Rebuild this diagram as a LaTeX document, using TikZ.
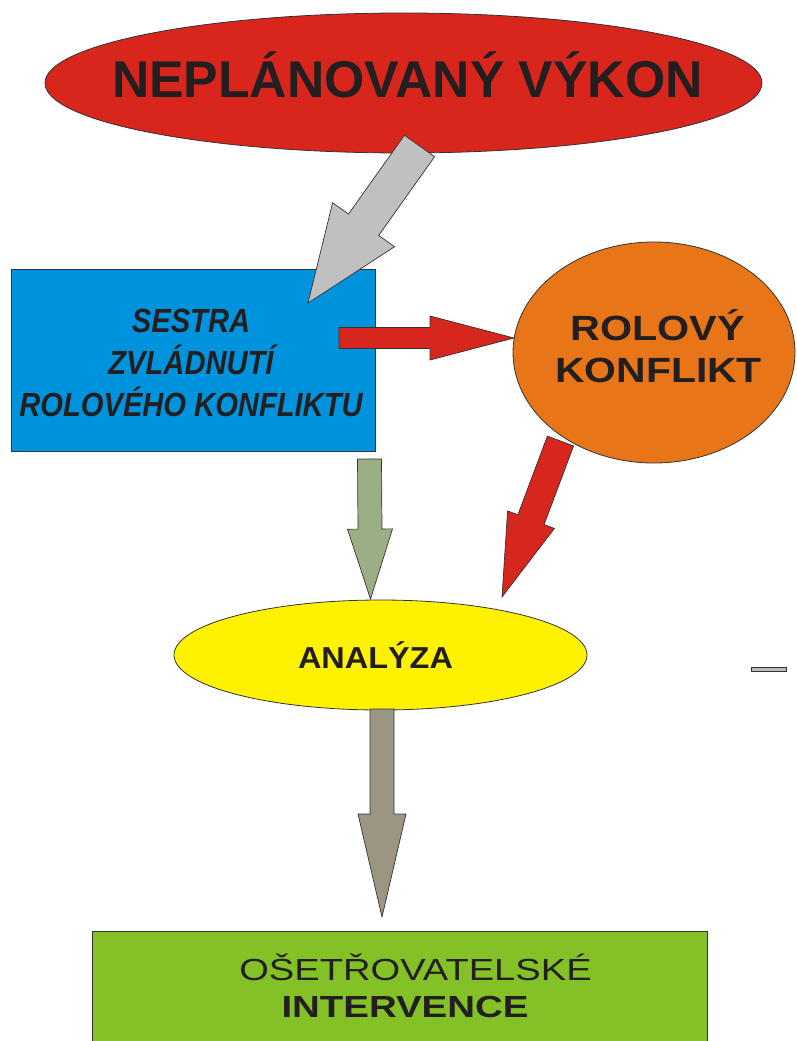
\documentclass[tikz,border=0pt]{standalone}
\usepackage{fontspec}
\usepackage{graphicx}
\setmainfont{Liberation Sans}
\usetikzlibrary{calc,shapes.geometric}

\definecolor{edge}{HTML}{333333}
\definecolor{ink}{HTML}{231F20}
\definecolor{topred}{HTML}{D8261D}
\definecolor{nurseblue}{HTML}{0093DD}
\definecolor{conforange}{HTML}{E87619}
\definecolor{analyellow}{HTML}{FFF200}
\definecolor{intgreen}{HTML}{84C126}
\definecolor{arrgray}{HTML}{C0C0C0}
\definecolor{arrred}{HTML}{D7261D}
\definecolor{arrgreen}{HTML}{9AAF86}
\definecolor{arrdark}{HTML}{9A9682}

% block arrow: #1 style, #2 tail, #3 tip, #4 half shaft width,
% #5 half head width, #6 head length (all in pt)
\newcommand{\blockarrow}[6]{%
  \coordinate (ba-h) at ($(#3)!#6pt!(#2)$);
  \path[#1] ($(#2)!#4pt!90:(#3)$) -- ($(ba-h)!#4pt!90:(#3)$)
    -- ($(ba-h)!#5pt!90:(#3)$) -- (#3)
    -- ($(ba-h)!#5pt!-90:(#3)$) -- ($(ba-h)!#4pt!-90:(#3)$)
    -- ($(#2)!#4pt!-90:(#3)$) -- cycle;}

\begin{document}
\begin{tikzpicture}[x=1pt,y=-1pt,
  shapebox/.style={draw=edge, line width=0.8pt, inner sep=0pt},
  oval/.style={shapebox, ellipse},
  box/.style={shapebox, rectangle},
  arrowbody/.style={draw=edge, line width=0.7pt, line join=miter},
  lbl/.style={anchor=base, inner sep=0pt, text=ink}]

\useasboundingbox (0,0) rectangle (796,1041);
\clip (0,0) rectangle (796,1041);

% shapes
\node[oval, fill=topred, minimum width=717, minimum height=140] (vykon) at (403.5,83) {};
\node[box, fill=nurseblue, minimum width=364, minimum height=182] (sestra) at (193,360) {};
\node[oval, fill=conforange, minimum width=282, minimum height=221] (konflikt) at (654,352.5) {};
\node[oval, fill=analyellow, minimum width=413, minimum height=110] (analyza) at (380.5,655) {};
\node[box, fill=intgreen, minimum width=615, minimum height=129] (intervence) at (399.5,995.5) {};

% small stray bar on the right
\draw[edge, fill=gray!55, line width=0.6pt] (751,667.5) rectangle (786,671.5);

% arrow end points
\coordinate (v-out) at (419.5,146);  \coordinate (s-in) at (308,303);
\coordinate (s-out) at (339,338);    \coordinate (k-in) at (514,338);
\coordinate (k-out) at (560.5,441);  \coordinate (a-in2) at (502,597);
\coordinate (s-down) at (369.5,459); \coordinate (a-in1) at (370.5,599);
\coordinate (a-out) at (382,709);    \coordinate (i-in) at (382,917);

% block arrows
\blockarrow{arrowbody, fill=arrgray}{v-out}{s-in}{18.5}{38}{96}
\blockarrow{arrowbody, fill=arrred}{s-out}{k-in}{10.5}{22}{84}
\blockarrow{arrowbody, fill=arrred}{k-out}{a-in2}{14}{25}{82.6}
\blockarrow{arrowbody, fill=arrgreen}{s-down}{a-in1}{12}{22.5}{70}
\blockarrow{arrowbody, fill=arrdark}{a-out}{i-in}{12}{24}{103}

% labels
\node[lbl, font=\fontsize{51.7}{60}\selectfont\bfseries] (t-vykon) at (407.5,97) {NEPLÁNOVANÝ VÝKON};

\node[lbl, font=\fontsize{33.5}{40}\selectfont\bfseries\itshape] (t-s1) at (191,332) {\scalebox{0.87}[1]{SESTRA}};
\node[lbl, font=\fontsize{33.5}{40}\selectfont\bfseries\itshape] (t-s2) at (191,374) {\scalebox{0.87}[1]{ZVLÁDNUTÍ}};
\node[lbl, font=\fontsize{33.5}{40}\selectfont\bfseries\itshape] (t-s3) at (191,416) {\scalebox{0.87}[1]{ROLOVÉHO KONFLIKTU}};

\node[lbl, font=\fontsize{35}{40}\selectfont\bfseries] (t-k1) at (657.5,340) {\scalebox{1.18}[1]{ROLOVÝ}};
\node[lbl, font=\fontsize{35}{40}\selectfont\bfseries] (t-k2) at (658.5,382) {\scalebox{1.17}[1]{KONFLIKT}};

\node[lbl, font=\fontsize{30.3}{36}\selectfont\bfseries] (t-a) at (375.5,668) {\scalebox{1.07}[1]{ANALÝZA}};

\node[lbl, font=\fontsize{30.5}{36}\selectfont] (t-i1) at (415.5,980) {\scalebox{1.25}[1]{OŠETŘOVATELSKÉ}};
\node[lbl, font=\fontsize{30.5}{36}\selectfont\bfseries] (t-i2) at (405,1017) {\scalebox{1.26}[1]{INTERVENCE}};

\end{tikzpicture}
\end{document}
